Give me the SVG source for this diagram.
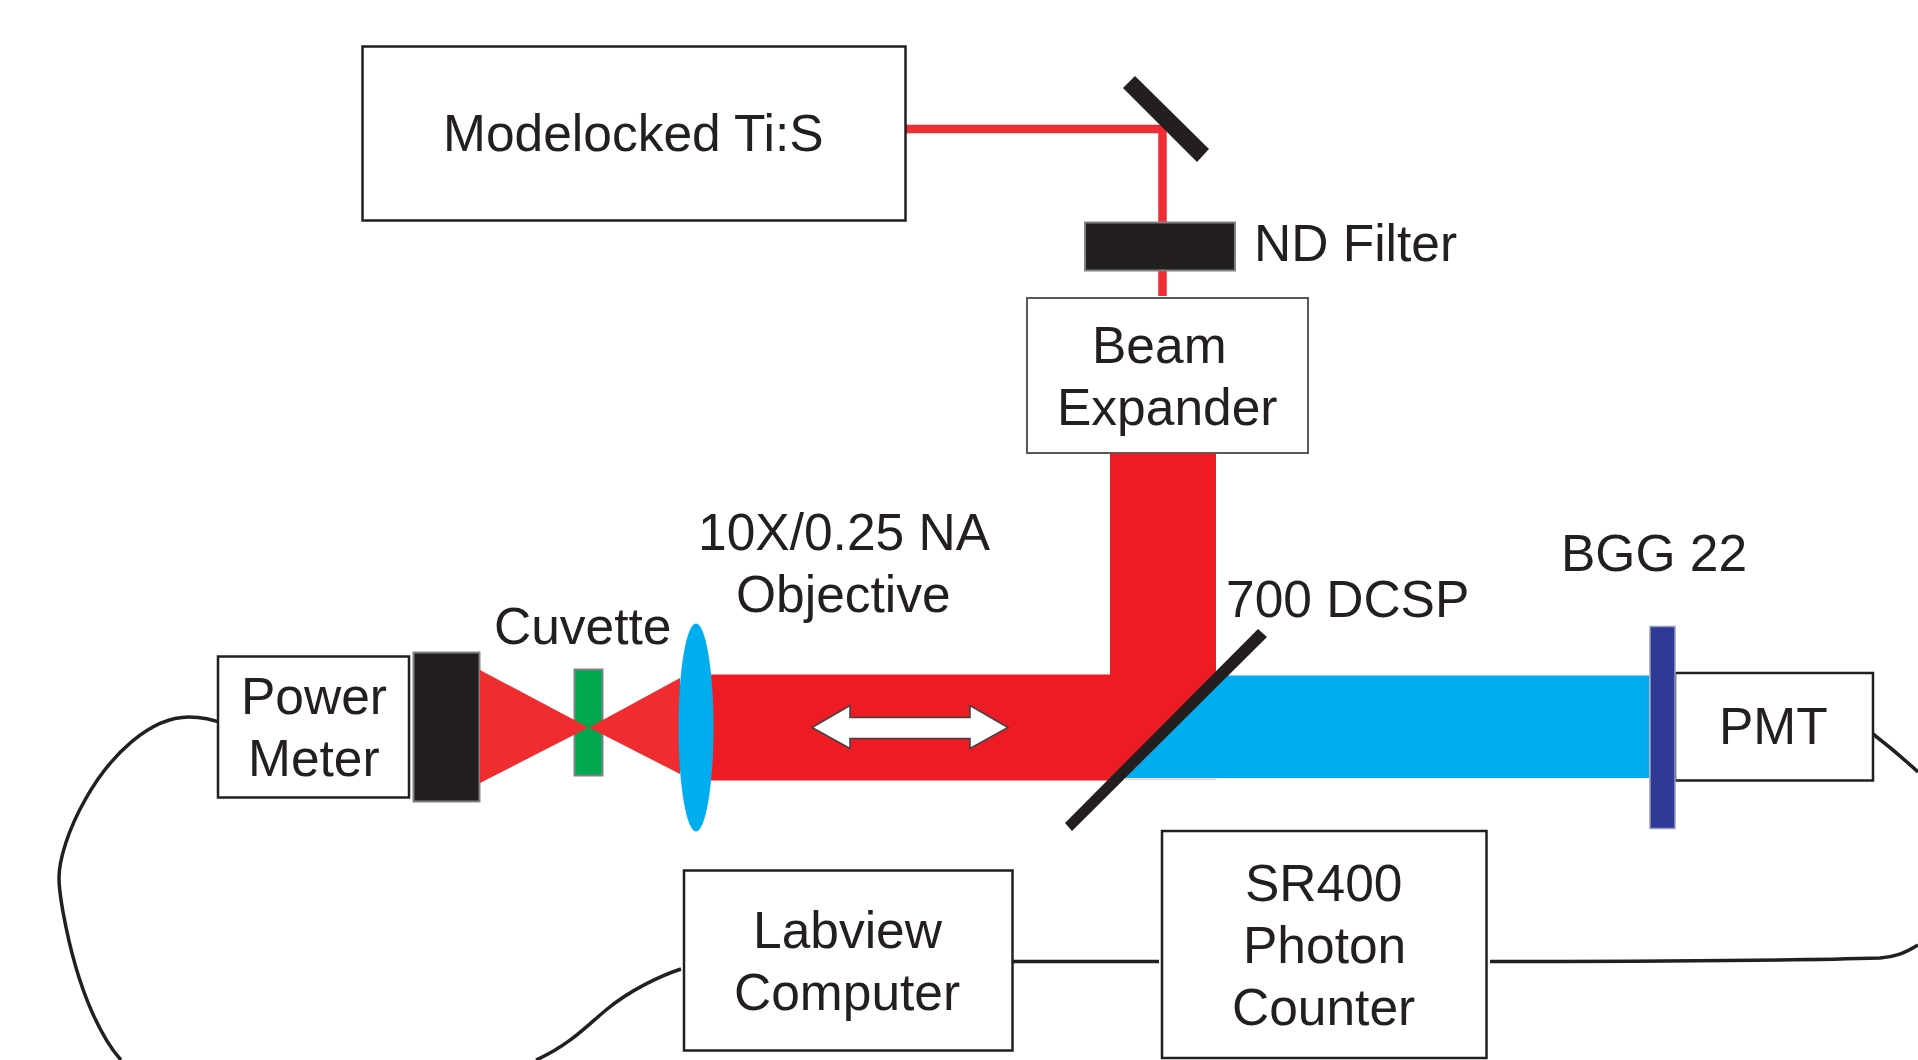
<svg xmlns="http://www.w3.org/2000/svg" width="1918" height="1060" viewBox="0 0 1918 1060">
<style>
text{font-family:"Liberation Sans",Arial,sans-serif;font-size:51.500px;fill:#231f20}
.box{fill:#fff;stroke:#231f20;stroke-width:2.500}
.blk{fill:#231f20;stroke:#808285;stroke-width:2}
.wire{fill:none;stroke:#231f20;stroke-width:3.500}
.beam{fill:#ed1c24}
.thin{fill:#ef2d30}
</style>
<rect width="1918" height="1060" fill="#fff"/>
<g id="connectors">
<path d="M905 129H1162.500V296" fill="none" stroke="#ef2d35" stroke-width="8.500"/>
<path class="wire" d="M224 724C212 719 201 717 189 717C150 717 110 755 85 800C68 830 59 860 59 878C59 890 61 900 63 912C70 950 80 985 92 1012C100 1030 110 1048 121 1060"/>
<path class="wire" d="M681 969C660 976 630 990 606 1010C590 1023 570 1045 536 1060"/>
<path class="wire" d="M1013 961.500H1159"/>
<path class="wire" d="M1490 961.500C1600 961.500 1780 961 1880 958C1895 957 1905 953 1918 945"/>
<path class="wire" d="M1873 734C1890 747 1905 760 1918 772"/>
</g>
<g id="modelocked"><rect class="box" x="362.500" y="46.500" width="543" height="174"/><text x="443" y="151">Modelocked Ti:S</text></g>
<g id="mirror"><polygon fill="#231f20" points="1135,76 1123,88 1197,162 1209,149"/></g>
<g id="nd-filter"><rect class="blk" x="1085" y="222.500" width="150" height="48"/><text x="1254" y="261">ND Filter</text></g>
<g id="beam-expander"><rect class="box" x="1027" y="298" width="281" height="155" style="stroke:#58595b;stroke-width:2"/><text x="1092" y="363">Beam</text><text x="1057" y="425">Expander</text></g>
<g id="beams">
<polygon class="beam" points="700,674.500 1110,674.500 1110,453.500 1216,453.500 1216,680 1116,780.500 700,780.500"/>
<polygon fill="#00aeef" points="1228,675.500 1649,675.500 1649,778 1125,778"/>
<rect x="1125" y="778.500" width="91" height="1.500" fill="#f6c7c4"/>
</g>
<g id="arrow"><polygon fill="#fff" stroke="#414042" stroke-width="1.500" points="812,727.500 850,705.500 850,717.500 970,717.500 970,705.500 1008,727.500 970,748.500 970,738.500 850,738.500 850,748.500"/></g>
<g id="dichroic"><polygon fill="#231f20" points="1258,629 1267,637 1072,831 1065,823"/><text x="1226" y="617">700 DCSP</text></g>
<g id="power-meter"><rect class="box" x="218" y="656.500" width="191" height="141"/><text x="241" y="714">Power</text><text x="248" y="776">Meter</text></g>
<g id="beam-dump"><rect class="blk" x="413.500" y="652.500" width="66" height="149"/></g>
<g id="cuvette"><rect x="574.500" y="669.500" width="28" height="106" fill="#00a94f" stroke="#808285" stroke-width="2"/><text x="494" y="644">Cuvette</text></g>
<g id="focus"><polygon class="thin" points="480,670 588.500,727.500 480,783"/><polygon class="thin" points="680,678 589,727.500 680,774"/></g>
<g id="objective"><ellipse cx="696" cy="727.500" rx="17.500" ry="104" fill="#00aeef"/><text x="698" y="550">10X/0.25 NA</text><text x="736" y="612">Objective</text></g>
<g id="pmt"><rect class="box" x="1675" y="673" width="198" height="107.500"/><text x="1719" y="744">PMT</text></g>
<g id="bgg22"><rect x="1650" y="626.500" width="25" height="202" fill="#2e3a94" stroke="#9a9fc0" stroke-width="1.500"/><text x="1561" y="571">BGG 22</text></g>
<g id="sr400"><rect class="box" x="1162" y="831" width="324.500" height="227"/><text x="1245" y="900.500">SR400</text><text x="1243" y="963">Photon</text><text x="1232" y="1025">Counter</text></g>
<g id="labview"><rect class="box" x="684" y="870.500" width="328.500" height="180"/><text x="753" y="948">Labview</text><text x="734" y="1010">Computer</text></g>
</svg>
